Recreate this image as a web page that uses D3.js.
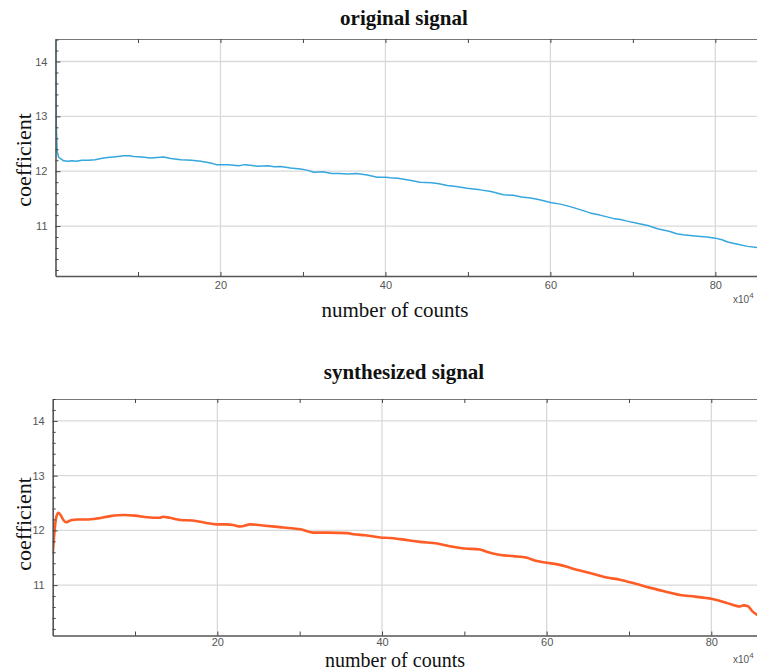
<!DOCTYPE html>
<html>
<head>
<meta charset="utf-8">
<script src="https://cdn.jsdelivr.net/npm/d3@7"></script>
<style>
  html, body { margin: 0; padding: 0; background: #fff; }
  svg { display: block; }
</style>
</head>
<body>
<svg id="chart" width="757" height="671"></svg>
<script>
// ---------- data ----------
const xMajorTicks = [20, 40, 60, 80];
const xMinorTicks = [10, 30, 50, 70];
const yMajorTicks = [11, 12, 13, 14];
const xUnitLabel = "x10";
const xUnitExp = "4";

const originalSignal = [
  [0, 14.5], [0.05, 13.6], [0.1, 12.8], [0.2, 12.36], [0.4, 12.25], [0.7, 12.22],
  [1.0, 12.19], [1.5, 12.18], [2.0, 12.19], [2.5, 12.18], [3.2, 12.2], [4.0, 12.2],
  [4.8, 12.21], [5.5, 12.23], [6.3, 12.25], [7.0, 12.26], [7.6, 12.27], [8.2, 12.28],
  [8.9, 12.28], [9.5, 12.27], [10.5, 12.26], [11.5, 12.24], [12.3, 12.25], [13.1, 12.26],
  [14.0, 12.23], [15.2, 12.21], [16.5, 12.2], [17.6, 12.18], [18.8, 12.15], [19.5, 12.12],
  [20.0, 12.12], [21.0, 12.12], [22.2, 12.10], [23.0, 12.12], [23.6, 12.11], [24.5, 12.09],
  [25.8, 12.10], [26.5, 12.08], [27.3, 12.085], [28.5, 12.06], [29.7, 12.04], [30.5, 12.02],
  [31.3, 11.98], [32.4, 11.99], [33.5, 11.96], [34.4, 11.96], [35.4, 11.95], [36.5, 11.96],
  [37.8, 11.93], [39.0, 11.89], [40.0, 11.89], [40.6, 11.88], [41.5, 11.87], [42.8, 11.84],
  [44.2, 11.80], [45.6, 11.79], [46.5, 11.77], [47.5, 11.74], [48.6, 11.72], [49.9, 11.69],
  [51.5, 11.66], [52.8, 11.63], [54.3, 11.57], [55.5, 11.56], [56.5, 11.53], [57.6, 11.51],
  [58.7, 11.48], [60.0, 11.43], [61.2, 11.40], [62.5, 11.35], [63.6, 11.30], [64.8, 11.24],
  [66.0, 11.20], [67.6, 11.14], [68.5, 11.12], [69.3, 11.09], [70.5, 11.05], [71.8, 11.01],
  [73.0, 10.95], [74.5, 10.90], [75.3, 10.86], [76.1, 10.84], [77.5, 10.82], [79.0, 10.80],
  [80.0, 10.78], [80.8, 10.75], [81.5, 10.71], [82.7, 10.67], [83.9, 10.63], [85.1, 10.61]
];

const synthesizedSignal = [
  [0, 11.55], [0.2, 11.95], [0.45, 12.25], [0.7, 12.32], [1.0, 12.27], [1.3, 12.19],
  [1.6, 12.15], [2.0, 12.17], [2.3, 12.19], [3.0, 12.20], [4.1, 12.20], [5.5, 12.22],
  [7.0, 12.26], [8.6, 12.28], [10.0, 12.27], [11.5, 12.24], [13.0, 12.23], [13.4, 12.25],
  [14.2, 12.23], [15.5, 12.19], [17.0, 12.18], [18.5, 12.14], [19.9, 12.11], [21.0, 12.11],
  [21.9, 12.10], [22.8, 12.07], [24.0, 12.11], [25.5, 12.09], [27.6, 12.06], [29.0, 12.04],
  [30.1, 12.02], [31.6, 11.96], [33.5, 11.96], [35.8, 11.95], [36.5, 11.93], [38.0, 11.91],
  [39.8, 11.87], [41.0, 11.86], [42.2, 11.84], [44.6, 11.79], [46.7, 11.76], [48.6, 11.70],
  [50.0, 11.67], [51.9, 11.65], [52.7, 11.61], [54.4, 11.55], [56.0, 11.53], [57.6, 11.50],
  [58.8, 11.44], [60.0, 11.41], [61.6, 11.37], [63.0, 11.31], [64.5, 11.25], [65.8, 11.20],
  [67.3, 11.14], [68.9, 11.10], [70.7, 11.03], [72.6, 10.95], [74.5, 10.88], [76.2, 10.82],
  [78.0, 10.79], [80.0, 10.75], [81.8, 10.68], [83.5, 10.61], [83.9, 10.63], [84.4, 10.62],
  [85.0, 10.52], [85.6, 10.45]
];

// ---------- layout ----------
const panels = [
  { title: "original signal", data: originalSignal, color: "#35a7de", width: 1.5, curve: d3.curveLinear,
    left: 55.5, top: 39, bottom: 276, right: 757, xMax: 85.05, yDom: [10.09, 14.41],
    titleY: 25, xLabelY: 317, labelSize: 21, tickPad: 5, unitY: 303, yLabelY: 160 },
  { title: "synthesized signal", data: synthesizedSignal, color: "#ff5c26", width: 2.6, curve: d3.curveMonotoneX,
    left: 52.7, top: 399, bottom: 635.5, right: 757, xMax: 85.55, yDom: [10.08, 14.40],
    titleY: 379, xLabelY: 666.5, labelSize: 20, tickPad: 2.5, unitY: 663, yLabelY: 524 }
];

const svg = d3.select("#chart");
const serif = "'Liberation Serif', 'Times New Roman', serif";
const sans = "'Liberation Sans', Arial, sans-serif";
const intFmt = d3.format("d");

panels.forEach((p, i) => {
  const x = d3.scaleLinear().domain([0, p.xMax]).range([p.left, p.right]);
  const y = d3.scaleLinear().domain(p.yDom).range([p.bottom, p.top]);
  const g = svg.append("g");

  // grid
  g.selectAll(".vgrid").data(xMajorTicks).join("line")
    .attr("x1", d => x(d)).attr("x2", d => x(d))
    .attr("y1", p.top).attr("y2", p.bottom)
    .attr("stroke", "#d9d9d9").attr("stroke-width", 1.3);
  g.selectAll(".hgrid").data(yMajorTicks).join("line")
    .attr("x1", p.left).attr("x2", p.right)
    .attr("y1", d => y(d)).attr("y2", d => y(d))
    .attr("stroke", "#d9d9d9").attr("stroke-width", 1.3);

  // clip
  const cid = "clip" + i;
  svg.append("clipPath").attr("id", cid).append("rect")
    .attr("x", p.left).attr("y", p.top)
    .attr("width", p.right - p.left).attr("height", p.bottom - p.top);

  // line
  const line = d3.line().x(d => x(d[0])).y(d => y(d[1])).curve(p.curve);
  g.append("path").datum(p.data)
    .attr("clip-path", `url(#${cid})`)
    .attr("fill", "none").attr("stroke", p.color)
    .attr("stroke-width", p.width).attr("stroke-linejoin", "round")
    .attr("d", line);

  // axes
  const styleAxis = sel => {
    sel.select(".domain").attr("stroke", "#555").attr("stroke-width", 1.6);
    sel.selectAll(".tick line").attr("stroke", "#444").attr("stroke-width", 1);
    sel.selectAll(".tick text").attr("fill", "#555").style("font-family", sans).style("font-size", "11px");
  };

  const xb = g.append("g").attr("transform", `translate(0,${p.bottom})`)
    .call(d3.axisBottom(x).tickValues(xMajorTicks).tickFormat(intFmt).tickSizeInner(-4).tickSizeOuter(0).tickPadding(p.tickPad));
  styleAxis(xb);
  const xbm = g.append("g").attr("transform", `translate(0,${p.bottom})`)
    .call(d3.axisBottom(x).tickValues(xMinorTicks).tickSizeInner(-4).tickSizeOuter(0).tickFormat(""));
  styleAxis(xbm); xbm.select(".domain").remove();

  const xt = g.append("g").attr("transform", `translate(0,${p.top})`)
    .call(d3.axisTop(x).tickValues(xMajorTicks.concat(xMinorTicks)).tickSizeInner(-4).tickSizeOuter(0).tickFormat(""));
  styleAxis(xt); xt.select(".domain").attr("stroke", "#777").attr("stroke-width", 1.2);

  const yMinor = d3.range(10.2, 14.41, 0.2).filter(v => Math.abs(v - Math.round(v)) > 0.05);
  const yl = g.append("g").attr("transform", `translate(${p.left},0)`)
    .call(d3.axisLeft(y).tickValues(yMajorTicks).tickFormat(intFmt).tickSizeInner(-5).tickSizeOuter(0).tickPadding(8));
  styleAxis(yl);
  const ylm = g.append("g").attr("transform", `translate(${p.left},0)`)
    .call(d3.axisLeft(y).tickValues(yMinor).tickSizeInner(-3).tickSizeOuter(0).tickFormat(""));
  styleAxis(ylm); ylm.select(".domain").remove();

  // titles and labels
  svg.append("text").attr("x", 404).attr("y", p.titleY)
    .attr("text-anchor", "middle").style("font-family", serif)
    .style("font-weight", "bold").style("font-size", "21px").attr("fill", "#111")
    .text(p.title);

  svg.append("text").attr("x", 395).attr("y", p.xLabelY)
    .attr("text-anchor", "middle").style("font-family", serif)
    .style("font-size", p.labelSize + "px").attr("fill", "#111")
    .text("number of counts");

  svg.append("text")
    .attr("transform", `translate(31,${p.yLabelY}) rotate(-90)`)
    .attr("text-anchor", "middle").style("font-family", serif)
    .style("font-size", "22px").attr("fill", "#111")
    .text("coefficient");

  const u = svg.append("text").attr("x", 733).attr("y", p.unitY)
    .style("font-family", sans).style("font-size", "10px").attr("fill", "#555");
  u.append("tspan").text(xUnitLabel);
  u.append("tspan").attr("dy", -5).style("font-size", "8px").text(xUnitExp);
});
</script>
</body>
</html>
